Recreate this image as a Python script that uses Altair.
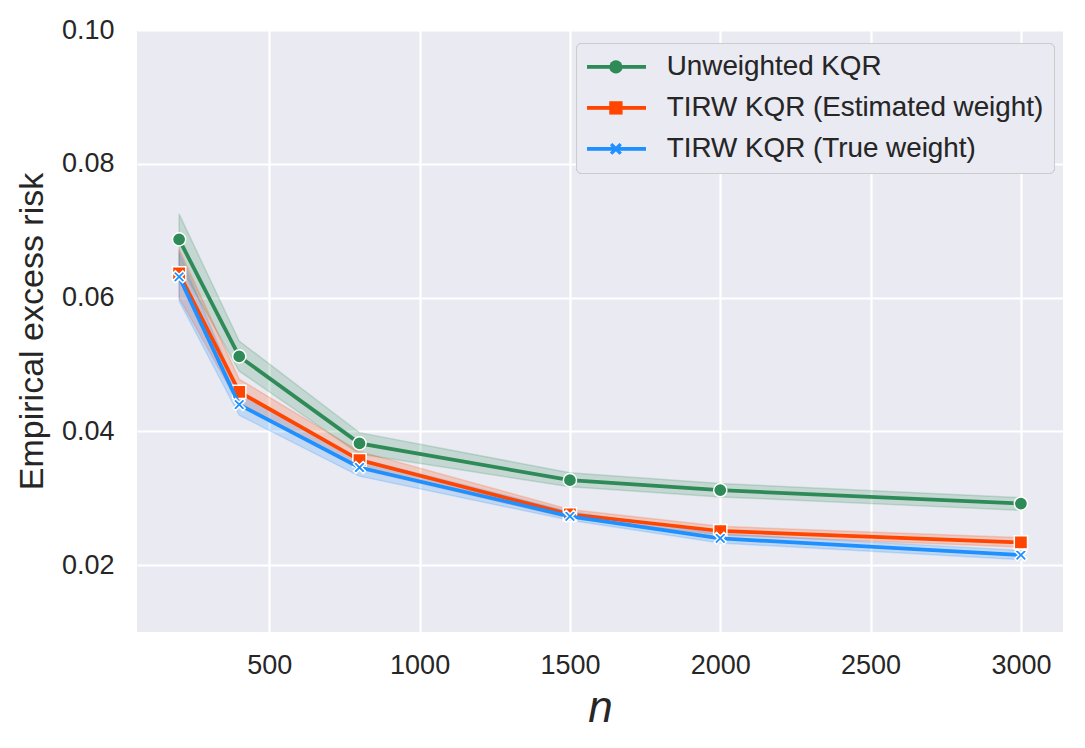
import altair as alt
import pandas as pd

n_values = [200, 400, 800, 1500, 2000, 3000]
series_names = ["Unweighted KQR", "TIRW KQR (Estimated weight)", "TIRW KQR (True weight)"]

unw_mean = [0.0687, 0.0512, 0.0382, 0.0327, 0.0312, 0.0292]
unw_lo = [0.0650, 0.0490, 0.0366, 0.0317, 0.0302, 0.0282]
unw_hi = [0.0725, 0.0535, 0.0398, 0.0338, 0.0322, 0.0301]

est_mean = [0.0636, 0.0459, 0.0357, 0.0276, 0.0251, 0.0234]
est_lo = [0.0600, 0.0440, 0.0344, 0.0270, 0.0245, 0.0227]
est_hi = [0.0672, 0.0478, 0.0370, 0.0283, 0.0258, 0.0241]

tru_mean = [0.0631, 0.0440, 0.0346, 0.0273, 0.0240, 0.0215]
tru_lo = [0.0595, 0.0424, 0.0333, 0.0267, 0.0233, 0.0208]
tru_hi = [0.0667, 0.0456, 0.0359, 0.0280, 0.0247, 0.0222]

x_ticks = [500, 1000, 1500, 2000, 2500, 3000]
y_ticks = [0.02, 0.04, 0.06, 0.08, 0.10]

colors = ["#2E8B57", "#FF4500", "#1E90FF"]
X_PATH = ("M-0.9,-0.55 L-0.55,-0.9 L0,-0.35 L0.55,-0.9 L0.9,-0.55 L0.35,0 "
          "L0.9,0.55 L0.55,0.9 L0,0.35 L-0.55,0.9 L-0.9,0.55 L-0.35,0 Z")
shapes = ["circle", "square", X_PATH]
LINE_SYMBOL = "M-1.17,0 L4.19,0"

rows = []
for name, means, los, his in zip(series_names,
                                 [unw_mean, est_mean, tru_mean],
                                 [unw_lo, est_lo, tru_lo],
                                 [unw_hi, est_hi, tru_hi]):
    for n, m, lo, hi in zip(n_values, means, los, his):
        rows.append({"n": n, "series": name, "series_m": name, "series_b": name,
                     "mean": m, "lo": lo, "hi": hi})
df = pd.DataFrame(rows)

FONT = "Liberation Sans"
TXT = "#262626"

x_enc = alt.X("n:Q", scale=alt.Scale(domain=[60, 3140], nice=False, zero=False),
              axis=alt.Axis(values=x_ticks, format="d", title="n", labelPadding=20, titlePadding=8,
                            titleFontSize=44, titleFontStyle="italic", titleFontWeight="normal"))
y_axis = alt.Axis(values=y_ticks, format=".2f", title="Empirical excess risk",
                  labelPadding=23, titlePadding=12, titleFontSize=34, titleFontWeight="normal")
y_scale = alt.Scale(domain=[0.01, 0.10], nice=False, zero=False)

line_legend = alt.Legend(orient="none", legendX=439, legendY=13, title=None,
                         symbolType=LINE_SYMBOL, symbolSize=484, symbolStrokeWidth=3.75,
                         labelFont=FONT, labelFontSize=27.8, labelColor=TXT, labelOffset=53,
                         labelLimit=700, padding=10, rowPadding=12,
                         fillColor="rgba(234,234,242,0.8)", strokeColor="#CCCCCC",
                         cornerRadius=5)
mark_legend = alt.Legend(orient="none", legendX=455, legendY=13, title=None,
                         symbolSize=175, symbolStrokeColor="white", symbolStrokeWidth=1.5,
                         symbolOpacity=1, labelExpr="''",
                         labelFont=FONT, labelFontSize=27.8, labelColor="rgba(0,0,0,0)",
                         labelOffset=20, labelLimit=700, padding=10, rowPadding=12)

base = alt.Chart(df)

band = base.mark_area(fillOpacity=0.2, strokeOpacity=0.2, strokeWidth=1.5).encode(
    x=x_enc,
    y=alt.Y("lo:Q", scale=y_scale, axis=y_axis),
    y2="hi:Q",
    color=alt.Color("series_b:N", scale=alt.Scale(domain=series_names, range=colors), legend=None),
    stroke=alt.Stroke("series_b:N", scale=alt.Scale(domain=series_names, range=colors), legend=None),
    detail="series_b:N",
)

layers = [band]
for name in series_names:
    ln = base.transform_filter(alt.datum.series == name).mark_line(strokeWidth=3.75).encode(
        x=x_enc,
        y=alt.Y("mean:Q", scale=y_scale, axis=y_axis),
        color=alt.Color("series:N", scale=alt.Scale(domain=series_names, range=colors),
                        legend=line_legend),
    )
    pt = base.transform_filter(alt.datum.series == name).mark_point(
        filled=True, size=175, stroke="white", strokeWidth=1.5, opacity=1).encode(
        x=x_enc,
        y=alt.Y("mean:Q", scale=y_scale, axis=y_axis),
        color=alt.Color("series_m:N", scale=alt.Scale(domain=series_names, range=colors),
                        legend=mark_legend),
        shape=alt.Shape("series_m:N", scale=alt.Scale(domain=series_names, range=shapes),
                        legend=mark_legend),
    )
    layers += [ln, pt]

chart = alt.layer(*layers).resolve_scale(
    color="independent", stroke="independent", shape="independent"
).resolve_legend(color="independent", shape="independent").properties(
    width=926, height=602,
    autosize=alt.AutoSizeParams(type="none"),
    padding={"left": 129, "top": 22, "right": 10, "bottom": 100},
    background="white",
).configure_view(
    fill="#EAEAF2", stroke=None
).configure_axis(
    grid=True, gridColor="white", gridWidth=2.2, domain=False, ticks=False,
    labelFont=FONT, labelFontSize=27, labelColor=TXT,
    titleFont=FONT, titleColor=TXT,
)

chart.save("out.html", embed_options={"renderer": "svg", "actions": False})
